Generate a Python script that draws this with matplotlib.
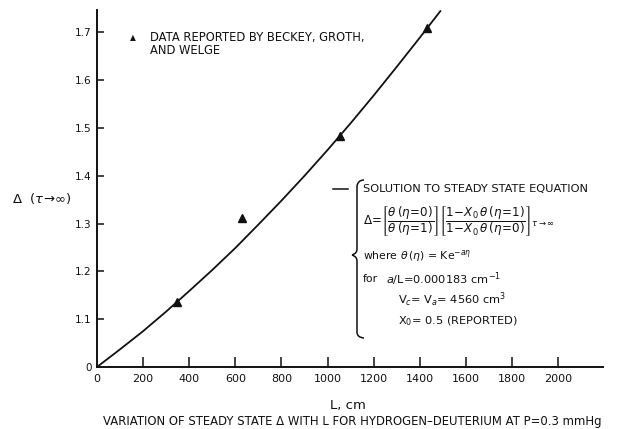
import matplotlib
matplotlib.use("Agg")
import matplotlib.pyplot as plt
from matplotlib.path import Path
from matplotlib.patches import PathPatch
from matplotlib.lines import Line2D

plt.rcParams['font.family'] = ['DejaVu Sans']
plt.rcParams['mathtext.fontset'] = 'dejavusans'

# Steady-state solution curve, Delta vs column length L (cm)
curve_L = [0, 100, 200, 300, 400, 500, 600, 700, 800, 900, 1000,
           1100, 1200, 1300, 1400, 1490]
curve_delta = [1.000, 1.037, 1.075, 1.116, 1.159, 1.203, 1.249, 1.298,
               1.348, 1.400, 1.454, 1.510, 1.568, 1.628, 1.689, 1.745]

# Data reported by Beckey, Groth and Welge
data_L = [345, 628, 1052, 1433]
data_delta = [1.136, 1.312, 1.484, 1.710]

x_ticks = [200, 400, 600, 800, 1000, 1200, 1400, 1600, 1800, 2000]
x_tick_labels = ["0", "200", "400", "600", "800", "1000", "1200", "1400",
                 "1600", "1800", "2000"]
y_ticks = [1.0, 1.1, 1.2, 1.3, 1.4, 1.5, 1.6, 1.7]
y_tick_labels = ["0", "1.1", "1.2", "1.3", "1.4", "1.5", "1.6", "1.7"]

W, H = 623, 429
fig = plt.figure(figsize=(W / 100, H / 100), dpi=100)

def fx(px):
    return px / W

def fy(py):
    return 1 - py / H

ax_l, ax_r, ax_t, ax_b = 97, 603, 10, 367
ax = fig.add_axes([fx(ax_l), fy(ax_b), (ax_r - ax_l) / W, (ax_b - ax_t) / H])

ink = "#111111"
ax.plot(curve_L, curve_delta, color=ink, lw=1.3, solid_capstyle="round")
ax.plot(data_L, data_delta, linestyle="none", marker="^", ms=5.5,
        color=ink, mec=ink)

ax.set_xlim(0, 2195)
ax.set_ylim(1.0, 1.747)

for side in ("top", "right"):
    ax.spines[side].set_visible(False)
for side in ("left", "bottom"):
    ax.spines[side].set_linewidth(1.4)
    ax.spines[side].set_color(ink)

ax.set_xticks([0] + x_ticks)
ax.set_xticklabels(x_tick_labels, fontsize=8)
ax.set_yticks(y_ticks)
ax.set_yticklabels(y_tick_labels, fontsize=7.5)
ax.tick_params(axis="x", direction="in", length=7, width=1.1, color=ink,
               pad=5, labelcolor=ink)
ax.tick_params(axis="y", direction="in", length=5, width=1.1, color=ink,
               pad=4, labelcolor=ink)
ax.xaxis.get_major_ticks()[0].tick1line.set_visible(False)
ax.yaxis.get_major_ticks()[0].tick1line.set_visible(False)

ax.set_xlabel("L, cm", fontsize=9.5, color=ink)
ax.xaxis.set_label_coords((348 - ax_l) / (ax_r - ax_l),
                          -(399 - ax_b) / (ax_b - ax_t))
ax.set_ylabel(r"$\Delta$  ($\tau\!\rightarrow\!\infty$)", fontsize=9.5,
              rotation=0, ha="center", va="center", color=ink)
ax.yaxis.set_label_coords(-(97 - 42) / (ax_r - ax_l),
                          (ax_b - 198) / (ax_b - ax_t))

# Legend for the reported data
fig.text(fx(133), fy(38), "\u25B2", fontsize=5.5, ha="center", va="center",
         color=ink)
fig.text(fx(150), fy(37), "DATA REPORTED BY BECKEY, GROTH,", fontsize=8.3,
         ha="left", va="center", color=ink)
fig.text(fx(150), fy(51), "AND WELGE", fontsize=8.3, ha="left", va="center",
         color=ink)

# Legend for the solution curve, with its brace
fig.add_artist(Line2D([fx(333), fx(348)], [fy(189), fy(189)], color=ink,
                      lw=1.1, transform=fig.transFigure))

bx = 357
brace = [
    (364, 180), (358, 180), (bx, 186),
    (bx, 249),
    (bx, 254), (352, 255), (352, 255),
    (352, 255), (bx, 256), (bx, 261),
    (bx, 332),
    (bx, 338), (364, 338), (364, 338),
]
codes = [Path.MOVETO, Path.CURVE3, Path.CURVE3,
         Path.LINETO,
         Path.CURVE4, Path.CURVE4, Path.CURVE4,
         Path.CURVE4, Path.CURVE4, Path.CURVE4,
         Path.LINETO,
         Path.CURVE4, Path.CURVE4, Path.CURVE4]
verts = [(fx(x), fy(y)) for x, y in brace]
fig.add_artist(PathPatch(Path(verts, codes), fill=False, edgecolor=ink,
                         lw=1.1, transform=fig.transFigure))

tx = 363
fs = 8.2
fig.text(fx(tx), fy(189), "SOLUTION TO STEADY STATE EQUATION", fontsize=fs,
         ha="left", va="center", color=ink)
fig.text(fx(tx), fy(221),
         r"$\Delta\!=\!\left[\dfrac{\theta\,(\eta\!=\!0)}{\theta\,(\eta\!=\!1)}\right]"
         r"\left[\dfrac{1\!-\!X_0\,\theta\,(\eta\!=\!1)}{1\!-\!X_0\,\theta\,(\eta\!=\!0)}\right]"
         r"_{\tau\rightarrow\infty}$",
         fontsize=8.6, ha="left", va="center", color=ink)
fig.text(fx(tx), fy(256), r"where $\theta\,(\eta)$ = Ke$^{-a\eta}$",
         fontsize=7.8, ha="left", va="center", color=ink)
fig.text(fx(tx), fy(279), "for", fontsize=7.8, ha="left", va="center",
         color=ink)
fig.text(fx(386), fy(279), r"$a$/L=0.000183 cm$^{-1}$", fontsize=fs,
         ha="left", va="center", color=ink)
fig.text(fx(398), fy(300), r"V$_c$= V$_a$= 4560 cm$^3$", fontsize=fs,
         ha="left", va="center", color=ink)
fig.text(fx(398), fy(321), r"X$_0$= 0.5 (REPORTED)", fontsize=fs,
         ha="left", va="center", color=ink)

fig.text(fx(352), fy(421),
         "VARIATION OF STEADY STATE \u0394 WITH L FOR HYDROGEN\u2013DEUTERIUM AT P=0.3 mmHg",
         fontsize=8.4, ha="center", va="center", color=ink)

fig.savefig("out.png", dpi=100)
